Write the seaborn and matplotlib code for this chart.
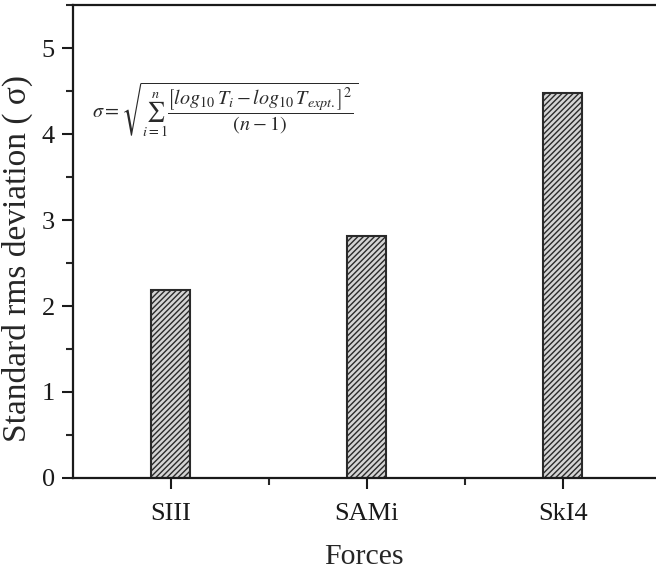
import matplotlib
matplotlib.use("Agg")
import matplotlib.pyplot as plt
import seaborn as sns
import pandas as pd
from matplotlib.ticker import MultipleLocator, FixedLocator

# Chart data
forces = ["SIII", "SAMi", "SkI4"]
rms_dev = [2.19, 2.81, 4.48]

df = pd.DataFrame({"Forces": forces, "sigma": rms_dev})

sns.set_style("ticks")
plt.rcParams["font.family"] = "serif"
plt.rcParams["font.serif"] = ["Liberation Serif", "DejaVu Serif"]
plt.rcParams["mathtext.fontset"] = "stix"
plt.rcParams["hatch.linewidth"] = 1.0
plt.rcParams["hatch.color"] = "#3a3a3a"

fig = plt.figure(figsize=(6.56, 5.71), dpi=100)
ax = fig.add_axes([0.111, 0.163, 0.889, 0.828])

sns.barplot(data=df, x="Forces", y="sigma", color="#d4d4d4", saturation=1,
            width=0.2, edgecolor="#2a2a2a", linewidth=1.5, ax=ax)
for bar in ax.patches:
    bar.set_hatch("//////")

ax.set_xlim(-0.5, 2.475)
ax.set_ylim(0, 5.5)
ax.yaxis.set_major_locator(MultipleLocator(1))
ax.yaxis.set_minor_locator(MultipleLocator(0.5))
ax.xaxis.set_minor_locator(FixedLocator([0.5, 1.5]))

for side in ["left", "bottom", "top"]:
    ax.spines[side].set_linewidth(1.6)
    ax.spines[side].set_color("#1a1a1a")
ax.spines["right"].set_visible(False)

ax.tick_params(which="major", direction="out", length=8, width=1.5,
               labelsize=19, colors="#1a1a1a")
ax.tick_params(axis="x", which="major", pad=10)
ax.tick_params(axis="y", which="major", pad=5)
ax.tick_params(which="minor", direction="out", length=5, width=1.5)

ax.set_xlabel("Forces", fontsize=21.5, labelpad=14)
ax.set_ylabel("Standard rms deviation ( σ)", fontsize=24)
ax.yaxis.set_label_coords(-0.068, 0.465)

formula = (r"$\sigma = \sqrt{\sum_{i=1}^{n}\dfrac{\left[log_{10}\,T_i - "
           r"log_{10}\,T_{expt.}\right]^2}{(n-1)}}$")
ax.text(0.276, 4.28, formula, fontsize=14.5, ha="center", va="center",
        color="#2a2a2a")

fig.savefig("out.png", dpi=100)
